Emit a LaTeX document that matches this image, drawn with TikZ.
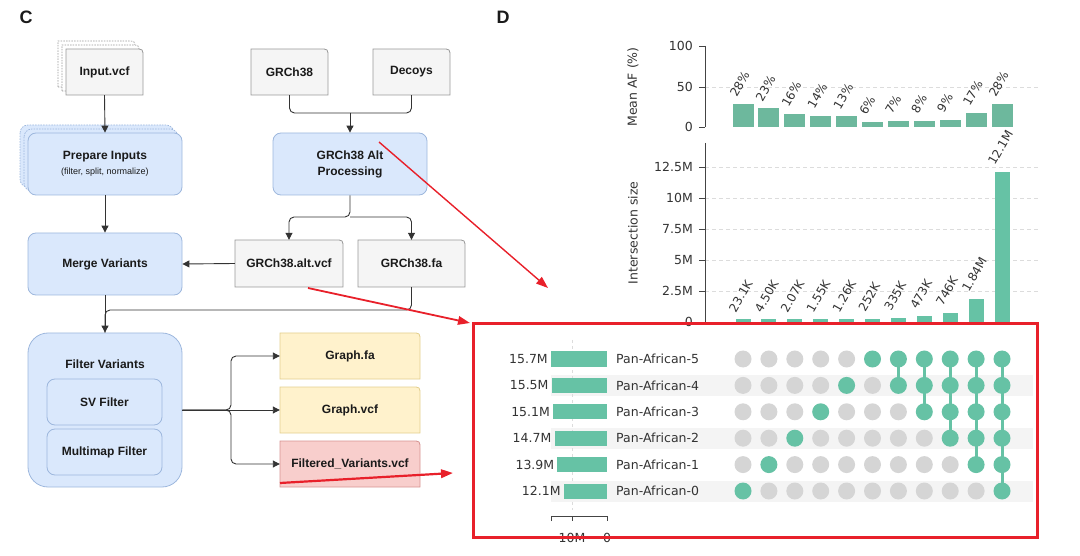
\documentclass[tikz,border=0pt]{standalone}
\usepackage{fontspec}
\setmainfont{Liberation Sans}
\newfontfamily\chartfont{DejaVu Sans}
\usetikzlibrary{arrows.meta,backgrounds,calc}
\definecolor{gfill}{HTML}{F5F5F5}
\definecolor{gline}{HTML}{9A9A9A}
\definecolor{bfill}{HTML}{DAE8FC}
\definecolor{bline}{HTML}{9DB7DD}
\definecolor{yfill}{HTML}{FFF2CC}
\definecolor{yline}{HTML}{E3CF8E}
\definecolor{rfill}{HTML}{F8CECC}
\definecolor{rline}{HTML}{D69492}
\definecolor{ink}{HTML}{1A1A1A}
\definecolor{conn}{HTML}{333333}
\definecolor{upg}{HTML}{66C2A5}
\definecolor{upgtop}{HTML}{6DB89D}
\definecolor{dotgray}{HTML}{D5D5D5}
\definecolor{stripe}{HTML}{F4F4F4}
\definecolor{gridc}{HTML}{DCDCDC}
\definecolor{axisc}{HTML}{444444}
\definecolor{txt}{HTML}{333333}
\definecolor{hired}{HTML}{E8202A}
\newcommand\cardat[5]{\filldraw[#5] (#1,#4) -- (#1,#2) -- ({#3-8},#2) .. controls (#3,#2) .. (#3,{#2+8}) -- (#3,#4) -- cycle;}
\begin{document}
\begin{tikzpicture}[x=1pt,y=-1pt,
  box/.style={draw=bline, fill=bfill, line width=0.8pt, rounded corners=8pt, inner sep=0pt, align=center, font=\fontsize{12}{16}\selectfont\bfseries, text=ink},
  cardtxt/.style={inner sep=0pt, align=center, font=\fontsize{12}{16}\selectfont\bfseries, text=ink},
  flow/.style={draw=conn, line width=0.9pt, -{Triangle[length=7pt,width=7pt]}, rounded corners=5pt},
  link/.style={draw=conn, line width=0.9pt, rounded corners=5pt},
  redarrow/.style={draw=hired, line width=1.8pt, -{Triangle[length=12pt,width=8.5pt]}},
  ctext/.style={font=\chartfont\fontsize{12.5}{14}\selectfont, text=txt, inner sep=0pt},
  rlab/.style={font=\chartfont\fontsize{12}{14}\selectfont, text=txt, inner sep=0pt, anchor=south west, rotate=60},
  gridl/.style={draw=gridc, line width=0.8pt, dash pattern=on 4pt off 3pt},
  axl/.style={draw=axisc, line width=0.9pt}]
\useasboundingbox (0,0) rectangle (1080,556);
\clip (0,0) rectangle (1080,556);

% ---------------- Panel C ----------------
\node[font=\fontsize{18}{20}\selectfont\bfseries, text=ink] (labC) at (26,17) {C};
\node[font=\fontsize{18}{20}\selectfont\bfseries, text=ink] (labD) at (503,17) {D};

\node[cardtxt, minimum width=77pt, minimum height=46pt] (inp) at (104.5,72) {Input.vcf};
\node[box, minimum width=154pt, minimum height=62pt] (prep) at (105,164) {Prepare Inputs\\[-1pt]{\fontsize{9}{11}\selectfont\mdseries (filter, split, normalize)}};
\node[box, minimum width=154pt, minimum height=62pt] (merge) at (105,264) {Merge Variants};
\node[box, rounded corners=20pt, minimum width=154pt, minimum height=154pt] (filt) at (105,410) {};
\node[cardtxt] (filttitle) at (105,364) {Filter Variants};
\node[box, minimum width=115pt, minimum height=46pt] (sv) at (104.5,402) {SV Filter};
\node[box, minimum width=115pt, minimum height=46pt] (mm) at (104.5,452) {Multimap Filter};

\node[cardtxt, minimum width=77pt, minimum height=46pt] (grch) at (289.5,72) {GRCh38};
\node[cardtxt, minimum width=77pt, minimum height=46pt] (decoys) at (411.5,72) {Decoys};
\node[box, minimum width=154pt, minimum height=62pt] (alt) at (350,164) {GRCh38 Alt\\Processing};
\node[cardtxt, minimum width=108pt, minimum height=47pt] (altvcf) at (289,263.5) {GRCh38.alt.vcf};
\node[cardtxt, minimum width=107pt, minimum height=47pt] (fa) at (411.5,263.5) {GRCh38.fa};

\node[cardtxt, minimum width=140pt, minimum height=46pt] (gfa) at (350,356) {Graph.fa};
\node[cardtxt, minimum width=140pt, minimum height=46pt] (gvcf) at (350,410) {Graph.vcf};
\node[cardtxt, minimum width=140pt, minimum height=46pt] (fvcf) at (350,464) {Filtered\_Variants.vcf};

\begin{scope}[on background layer]
  \cardat{58}{41}{135}{87}{fill=white, draw=gline, line width=0.7pt, dash pattern=on 1.5pt off 1.2pt}
  \cardat{62}{45}{139}{91}{fill=white, draw=gline, line width=0.7pt, dash pattern=on 1.5pt off 1.2pt}
  \cardat{66}{49}{143}{95}{fill=gfill, draw=gline, line width=0.8pt}
  \filldraw[fill=bfill, draw=bline, line width=0.7pt, dash pattern=on 1.5pt off 1.2pt, rounded corners=8pt] (20,125) rectangle (174,187);
  \filldraw[fill=bfill, draw=bline, line width=0.7pt, dash pattern=on 1.5pt off 1.2pt, rounded corners=8pt] (24,129) rectangle (178,191);
  \cardat{251}{49}{328}{95}{fill=gfill, draw=gline, line width=0.8pt}
  \cardat{373}{49}{450}{95}{fill=gfill, draw=gline, line width=0.8pt}
  \cardat{235}{240}{343}{287}{fill=gfill, draw=gline, line width=0.8pt}
  \cardat{358}{240}{465}{287}{fill=gfill, draw=gline, line width=0.8pt}
  \cardat{280}{333}{420}{379}{fill=yfill, draw=yline, line width=0.8pt}
  \cardat{280}{387}{420}{433}{fill=yfill, draw=yline, line width=0.8pt}
  \cardat{280}{441}{420}{487}{fill=rfill, draw=rline, line width=0.8pt}
\end{scope}

\coordinate (j1) at (350,113);
\coordinate (j2) at (350,217);
\coordinate (j3) at (105,310);
\coordinate (j4) at (231,410);

\draw[flow] (inp.south) -- (prep.north);
\draw[flow] (prep.south) -- (merge.north);
\draw[flow] (merge.south) -- (filt.north);
\draw[link] (grch.south) |- (j1);
\draw[link] (decoys.south) |- (j1);
\draw[flow] (j1) -- (alt.north);
\draw[flow] (alt.south) -- (j2) -| (altvcf.north);
\draw[flow] (j2) -| (fa.north);
\draw[flow] (altvcf.west) -- (merge.east);
\draw[link] (fa.south) |- (j3) -- (filt.north);
\draw[flow] (filt.east) -- (j4) |- (gfa.west);
\draw[flow] (filt.east) -- (gvcf.west);
\draw[flow] (filt.east) -- (j4) |- (fvcf.west);

% ---------------- Panel D ----------------
% Mean AF axis
\draw[gridl] (705,87) -- (1040,87);
\draw[axl] (705,46) -- (705,127);
\foreach \yy/\tl in {46/100,87/50,127/0} {
  \draw[axl] (699,\yy) -- (705,\yy);
  \node[ctext, anchor=east] (af\tl) at (693,\yy) {\tl};
}
\node[ctext, rotate=90] (aftitle) at (633,87) {Mean AF (\%)};

% Intersection axis
\foreach \yy in {167,198,229,260,291} {\draw[gridl] (705,\yy) -- (1040,\yy);}
\draw[axl] (705,143) -- (705,322);
\foreach \yy/\tl [count=\k] in {167/12.5M,198/10M,229/7.5M,260/5M,291/2.5M,322/0} {
  \draw[axl] (699,\yy) -- (705,\yy);
  \node[ctext, anchor=east] (it\k) at (693,\yy) {\tl};
}
\node[ctext, rotate=90] (ittitle) at (633,233) {Intersection size};

% bars
\foreach \i/\af/\lab/\isz in {0/28/23.1K/0.0231, 1/23/4.50K/0.0045, 2/16/2.07K/0.00207, 3/14/1.55K/0.00155, 4/13/1.26K/0.00126, 5/6/252K/0.252, 6/7/335K/0.335, 7/8/473K/0.473, 8/9/746K/0.746, 9/17/1.84M/1.84, 10/28/12.1M/12.1} {
  \pgfmathsetmacro\cx{743+25.9*\i}
  \pgfmathsetmacro\ttop{127-0.81*\af}
  \pgfmathsetmacro\itop{322-max(12.4*\isz,2.5)}
  \fill[upgtop] ({\cx-10.5},\ttop) rectangle ({\cx+10.5},127);
  \node[rlab] (aflab\i) at ({\cx-6},{\ttop-6}) {\af\%};
  \fill[upg] ({\cx-7.5},\itop) rectangle ({\cx+7.5},322);
  \node[rlab] (islab\i) at ({\cx-7},{\itop-6}) {\lab};
}

% matrix stripes
\foreach \r in {0,2,4} {
  \pgfmathsetmacro\ry{491-26.4*\r}
  \fill[stripe] (551,{\ry-10.5}) rectangle (1033,{\ry+10.5});
}
% total size gridline
\draw[gridl, dash pattern=on 3pt off 3pt] (572,340) -- (572,510);

% total size bars and labels
\foreach \r/\v in {5/15.7,4/15.5,3/15.1,2/14.7,1/13.9,0/12.1} {
  \pgfmathsetmacro\ry{491-26.4*\r}
  \pgfmathsetmacro\bl{607-3.57*\v}
  \fill[upg] (\bl,{\ry-7.5}) rectangle (607,{\ry+7.5});
  \node[ctext, anchor=east] (tv\r) at ({\bl-3},\ry) {\v M};
  \node[ctext, anchor=west] (set\r) at (616,\ry) {Pan-African-\r};
}
\draw[axl] (551,521) -- (551,516) -- (607,516) -- (607,521);
\draw[axl] (572,516) -- (572,521);
\node[ctext] (tx10) at (572,538) {10M};
\node[ctext] (tx0) at (607,538) {0};
\node[ctext] (txtitle) at (579,562) {Total size};

% dots
\foreach \i in {0,...,10} {
  \pgfmathsetmacro\cx{743+25.9*\i}
  \pgfmathtruncatemacro\lo{\i<=5 ? \i : 10-\i}
  \pgfmathtruncatemacro\hi{\i<=5 ? \i : 5}
  \ifnum\lo<\hi
    \draw[upg, line width=3pt] (\cx,{491-26.4*\lo}) -- (\cx,{491-26.4*\hi});
  \fi
  \foreach \r in {0,...,5} {
    \pgfmathsetmacro\ry{491-26.4*\r}
    \def\dc{upg}
    \ifnum\r<\lo \def\dc{dotgray}\fi
    \ifnum\r>\hi \def\dc{dotgray}\fi
    \fill[\dc] (\cx,\ry) circle[radius=8.5pt];
  }
}

% red highlight box and arrows
\node[draw=hired, line width=3pt, minimum width=564pt, minimum height=213pt, inner sep=0pt] (zoombox) at (755,430.5) {};
\coordinate (r1s) at (379,142);
\coordinate (r1e) at (548,288);
\coordinate (r2s) at (308,288);
\coordinate (r2e) at (470,323);
\coordinate (r3s) at (280,483);
\coordinate (r3e) at (453,473);
\draw[redarrow, line width=1.4pt] (r1s) -- (r1e);
\draw[redarrow] (r2s) -- (r2e);
\draw[redarrow, line width=2.2pt] (r3s) -- (r3e);
\end{tikzpicture}
\end{document}
